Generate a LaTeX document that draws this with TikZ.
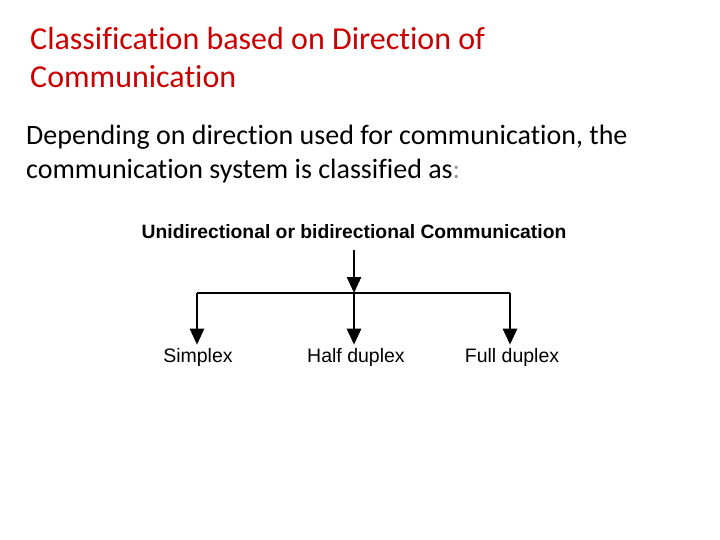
\documentclass[tikz,border=0pt]{standalone}
\usepackage{fontspec}
\setmainfont{Carlito}[Ligatures=NoCommon]
\newfontfamily\arialfont{Liberation Sans}
\definecolor{titlered}{RGB}{204,0,0}
\definecolor{colongray}{RGB}{150,150,150}
\tikzset{
	heading/.style={anchor=base west,inner sep=0pt,text=titlered,font=\fontsize{32}{38}\selectfont},
	bodytext/.style={anchor=base west,inner sep=0pt,font=\fontsize{28}{33}\selectfont},
	kind/.style={inner sep=3pt,font=\arialfont\fontsize{19.5}{23}\selectfont},
	branch/.style={line width=2.6pt,-{Triangle[length=16pt,width=14pt]}}
}
\usetikzlibrary{arrows.meta}
\begin{document}
\begin{tikzpicture}[x=1pt,y=-1pt]
	\useasboundingbox (0,0) rectangle (720,540);
	% title
	\node[heading] (title1) at (30,50) {Classification based on Direction of};
	\node[heading] (title2) at (30,88) {Communication};
	% text
	\node[bodytext] (line1) at (26,145) {Depending on direction used for communication, the};
	\node[bodytext] (line2) at (26,179) {communication system is classified as\textcolor{colongray}{:}};
	% tree
	\node[kind,font=\arialfont\bfseries\fontsize{19.3}{23}\selectfont] (top) at (354,232) {Unidirectional or bidirectional Communication};
	\node[kind] (simplex) at (198,357) {Simplex};
	\node[kind] (half) at (356,357) {Half duplex};
	\node[kind] (full) at (512,357) {Full duplex};
	\coordinate (mid) at (354,293);
	\coordinate (left) at (197,293);
	\coordinate (right) at (510,293);
	\draw[branch,shorten <=8pt] (top) -- (mid);
	\draw[line width=2.6pt] (left) -- (right);
	\draw[branch] (left) -- (simplex.north -| left);
	\draw[branch] (mid) -- (half.north -| mid);
	\draw[branch] (right) -- (full.north -| right);
\end{tikzpicture}
\end{document}
